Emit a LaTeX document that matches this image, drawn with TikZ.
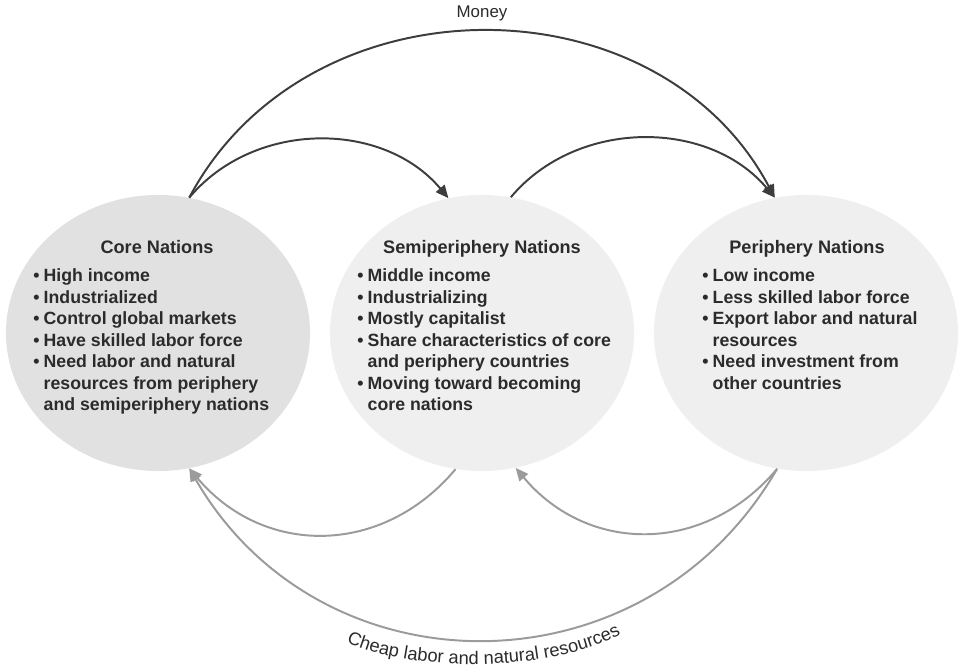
\documentclass[tikz,border=0pt]{standalone}
\usepackage{fontspec}
\setmainfont{Liberation Sans}
\usetikzlibrary{shapes.geometric,arrows.meta,decorations.text}

\definecolor{corefill}{HTML}{E1E1E1}
\definecolor{otherfill}{HTML}{EFEFEF}
\definecolor{moneygray}{HTML}{3D3D3D}
\definecolor{laborgray}{HTML}{9B9B9B}
\definecolor{textgray}{HTML}{2B2B2B}

\begin{document}
\begin{tikzpicture}[x=0.025cm,y=0.025cm,
  nation/.style={ellipse,minimum width=7.6cm,minimum height=6.9cm,inner sep=0pt},
  title/.style={anchor=base,inner sep=0pt,text=textgray,font=\fontsize{12.9}{15.3}\selectfont\bfseries},
  items/.style={anchor=base west,inner sep=0pt,text=textgray,font=\fontsize{12.6}{15.3}\selectfont\bfseries},
  money/.style={draw=moneygray,line width=1.4pt,-{Triangle[length=3.2mm,width=2.8mm]}},
  labor/.style={draw=laborgray,line width=1.4pt,-{Triangle[length=3.2mm,width=2.8mm]}}]
\useasboundingbox (0,0) rectangle (961,-668);

% the three groups of nations
\node[nation,fill=corefill] (core) at (158,-333) {};
\node[nation,fill=otherfill] (semi) at (482,-333) {};
\node[nation,fill=otherfill] (peri) at (806,-333) {};

\node[title] (coretitle) at (157,-254) {Core Nations};
\node[title] (semititle) at (482,-254) {Semiperiphery Nations};
\node[title] (perititle) at (807,-254) {Periphery Nations};

\node[items] (coreitems) at (33,-281.5) {\begin{tabular}[t]{@{}l@{\hspace{3pt}}l@{}}
\textbullet & High income\\
\textbullet & Industrialized\\
\textbullet & Control global markets\\
\textbullet & Have skilled labor force\\
\textbullet & Need labor and natural\\
 & resources from periphery\\
 & and semiperiphery nations
\end{tabular}};
\node[items] (semiitems) at (357,-281.5) {\begin{tabular}[t]{@{}l@{\hspace{3pt}}l@{}}
\textbullet & Middle income\\
\textbullet & Industrializing\\
\textbullet & Mostly capitalist\\
\textbullet & Share characteristics of core\\
 & and periphery countries\\
\textbullet & Moving toward becoming\\
 & core nations
\end{tabular}};
\node[items] (periitems) at (702,-281.5) {\begin{tabular}[t]{@{}l@{\hspace{3pt}}l@{}}
\textbullet & Low income\\
\textbullet & Less skilled labor force\\
\textbullet & Export labor and natural\\
 & resources\\
\textbullet & Need investment from\\
 & other countries
\end{tabular}};

% money flows
\draw[money] (core.77) to[out=62,in=118,looseness=1.1]
  node[midway,above=3pt,text=textgray,font=\fontsize{12}{14}\selectfont] (moneylabel) {Money} (peri.103);
\draw[money] (core.77) to[out=50,in=130] (semi.104);
\draw[money] (semi.78) to[out=50,in=130] (peri.103);

% labor and resources
\draw[labor] (semi.-101) to[out=-130,in=-50,looseness=1.1] (core.-77);
\draw[labor] (peri.-102) to[out=-130,in=-50,looseness=1.1] (semi.-76);
\draw[labor] (peri.-102) to[out=-120,in=-60,looseness=1.15] (core.-77);
\path[decorate,decoration={text along path,text align=center,
  text={|\fontsize{13}{15}\selectfont\color{textgray}|Cheap labor and natural resources}}]
  (335,-636) .. controls (400,-675) and (560,-675) .. (632,-628);
\end{tikzpicture}
\end{document}
